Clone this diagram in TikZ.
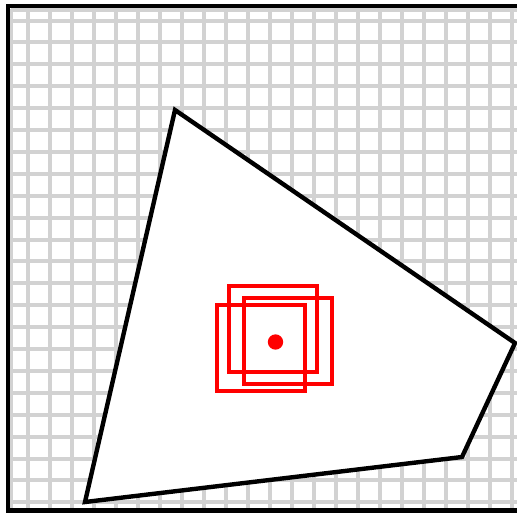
\documentclass[tikz,border=0pt]{standalone}
\definecolor{gridgray}{RGB}{210,210,210}
\begin{document}
\begin{tikzpicture}[x=0.75pt, y=-0.75pt,
    gridline/.style={draw=gridgray, line width=3pt},
    frame/.style={draw=black, line width=3.3pt},
    region/.style={draw=black, fill=white, line width=3.3pt},
    window/.style={draw=red, line width=3.7pt},
    centre/.style={circle, fill=red, inner sep=0pt, minimum size=11.5pt}]
\clip (0,0) rectangle (517,512);
% background grid
\foreach \i in {0,...,22} {
  \draw [gridline] ({28+22*\i},9) -- ({28+22*\i},512);
  \draw [gridline] (11,{20.5+21.9*\i}) -- (517,{20.5+21.9*\i});
}
\draw [gridline] (11,9) -- (11,512);
\draw [gridline] (11,9.5) -- (517,9.5);
\draw [frame] (8,6) rectangle (522,510.5);
% polygon
\coordinate (top) at (175,110);
\coordinate (right) at (515,343);
\coordinate (lower) at (462,457);
\coordinate (left) at (85,502);
\draw [region] (top) -- (right) -- (lower) -- (left) -- cycle;
% windows and centre
\draw [window] (229,286) rectangle (317,372);
\draw [window] (244,298) rectangle (332,384);
\draw [window] (217,305) rectangle (305,391);
\node (target) [centre] at (275.5,342) {};
\end{tikzpicture}
\end{document}
